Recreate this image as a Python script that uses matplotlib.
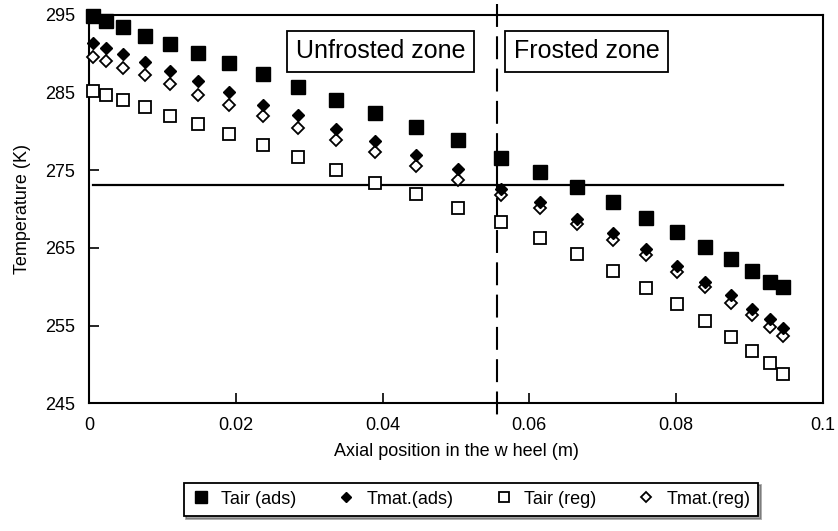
import matplotlib
matplotlib.use("Agg")
import matplotlib.pyplot as plt
import numpy as np

plt.rcParams['font.family'] = ['Liberation Sans', 'DejaVu Sans']

# ---- data ----
x_pos = [0.00054, 0.00227, 0.00463, 0.00759, 0.01099, 0.01485, 0.01907, 0.02370,
         0.02847, 0.03360, 0.03891, 0.04450, 0.05031, 0.05611, 0.06139, 0.06652,
         0.07137, 0.07592, 0.08009, 0.08400, 0.08750, 0.09036, 0.09281, 0.09453]
tair_ads = [294.87, 294.27, 293.42, 292.34, 291.23, 290.07, 288.78, 287.40,
            285.77, 284.05, 282.42, 280.62, 278.91, 276.63, 274.79, 272.81,
            270.96, 268.90, 267.10, 265.13, 263.54, 262.04, 260.66, 259.94]
tmat_ads = [291.36, 290.71, 289.98, 288.91, 287.79, 286.50, 285.12, 283.41,
            282.12, 280.28, 278.78, 276.97, 275.13, 272.56, 270.96, 268.73,
            266.97, 264.83, 262.68, 260.66, 258.95, 257.17, 255.82, 254.66]
tair_reg = [285.25, 284.70, 284.05, 283.19, 282.03, 280.96, 279.67, 278.26,
            276.75, 275.04, 273.40, 271.91, 270.11, 268.28, 266.25, 264.26,
            262.04, 259.81, 257.79, 255.57, 253.54, 251.71, 250.15, 248.77]
tmat_reg = [289.55, 289.08, 288.14, 287.27, 286.12, 284.70, 283.41, 281.99,
            280.49, 278.90, 277.40, 275.56, 273.75, 271.86, 270.11, 268.05,
            266.03, 264.10, 261.94, 259.97, 257.95, 256.37, 254.76, 253.67]
freeze_T = 273.15
front_x = 0.0556
series_labels = ["Tair (ads)", "Tmat.(ads)", "Tair (reg)", "Tmat.(reg)"]
x_ticks = [0, 0.02, 0.04, 0.06, 0.08, 0.1]
x_tick_labels = ["0", "0.02", "0.04", "0.06", "0.08", "0.1"]
y_ticks = [245, 255, 265, 275, 285, 295]

fig = plt.figure(figsize=(8.38, 5.31), dpi=100)
ax = fig.add_axes([0.1062, 0.2405, 0.982 - 0.1062, 0.9718 - 0.2405])

ax.plot(x_pos, tair_ads, linestyle='none', marker='s', ms=9.5, mfc='black',
        mec='black', label=series_labels[0], clip_on=False, zorder=5)
ax.plot(x_pos, tmat_ads, linestyle='none', marker='D', ms=6.3, mfc='black',
        mec='black', label=series_labels[1], clip_on=False, zorder=5)
ax.plot(x_pos, tair_reg, linestyle='none', marker='s', ms=8.3, mfc='white',
        mec='black', mew=1.3, label=series_labels[2], clip_on=False, zorder=4)
ax.plot(x_pos, tmat_reg, linestyle='none', marker='D', ms=6.0, mfc='white',
        mec='black', mew=1.3, label=series_labels[3], clip_on=False, zorder=4)

# freezing line
ax.plot([x_pos[0], x_pos[-1]], [freeze_T, freeze_T], color='black', lw=1.6, zorder=3)
# frost front
ax.plot([front_x, front_x], [296.4, 243.3], color='black', lw=1.5,
        dashes=(11, 4.5), clip_on=False, zorder=3)

ax.set_xlim(0, 0.1)
ax.set_ylim(245, 295)
ax.set_xticks(x_ticks)
ax.set_xticklabels(x_tick_labels)
ax.set_yticks(y_ticks)
ax.tick_params(axis='both', direction='in', length=7, width=1.2, labelsize=13)
ax.tick_params(axis='y', pad=10)
ax.tick_params(axis='x', pad=10)
for s in ax.spines.values():
    s.set_linewidth(1.5)
    s.set_color('black')

ax.set_xlabel("Axial position in the w heel (m)", fontsize=13)
ax.xaxis.set_label_coords(0.5, -0.103)
ax.set_ylabel("Temperature (K)", fontsize=13)
ax.yaxis.set_label_coords(-0.079, 0.5)

box = dict(boxstyle='square,pad=0.34', fc='white', ec='black', lw=1.3)
ax.text(0.0282, 290.3, "Unfrosted zone", fontsize=18, va='center', ha='left', bbox=box, zorder=6)
ax.text(0.0579, 290.3, "Frosted zone", fontsize=18, va='center', ha='left', bbox=box, zorder=6)

leg = fig.legend(loc='center', bbox_to_anchor=(0.562, 0.060), ncol=4, fontsize=13,
                 frameon=True, fancybox=False, shadow=True, edgecolor='black',
                 markerscale=0.85, handlelength=1.0, handletextpad=0.6,
                 columnspacing=2.3, borderpad=0.45)
leg.get_frame().set_linewidth(1.3)

fig.savefig("out.png", dpi=100)
